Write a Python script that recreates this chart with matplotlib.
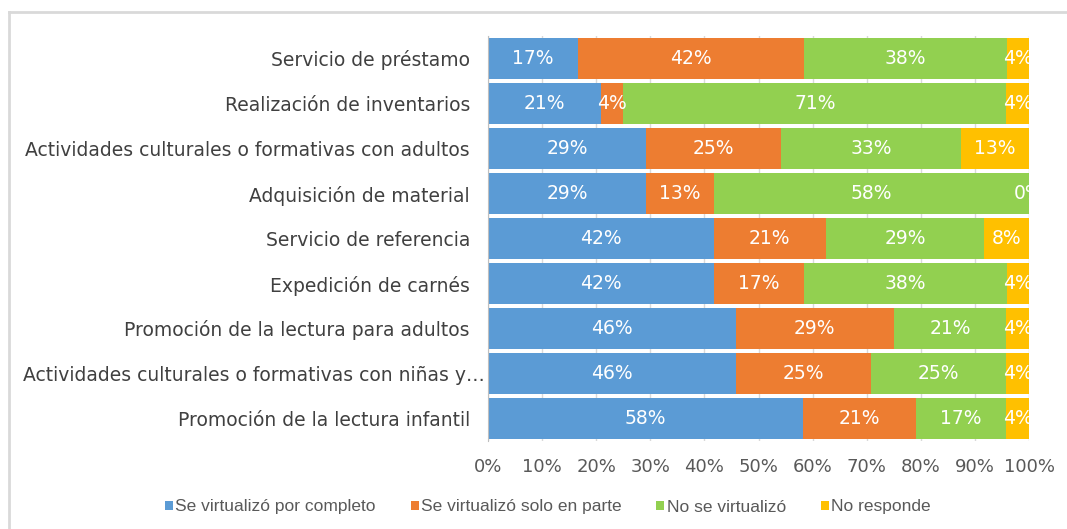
import matplotlib
matplotlib.use("Agg")
import matplotlib.pyplot as plt
from matplotlib.lines import Line2D
from matplotlib.patches import Patch
from matplotlib.transforms import ScaledTranslation

categories = [
    "Servicio de préstamo",
    "Realización de inventarios",
    "Actividades culturales o formativas con adultos",
    "Adquisición de material",
    "Servicio de referencia",
    "Expedición de carnés",
    "Promoción de la lectura para adultos",
    "Actividades culturales o formativas con niñas y…",
    "Promoción de la lectura infantil",
]
series_names = [
    "Se virtualizó por completo",
    "Se virtualizó solo en parte",
    "No se virtualizó",
    "No responde",
]
completo = [16.7, 20.8, 29.2, 29.2, 41.7, 41.7, 45.8, 45.8, 58.3]
en_parte = [41.7, 4.2, 25.0, 12.5, 20.8, 16.7, 29.2, 25.0, 20.8]
no_virtual = [37.5, 70.8, 33.3, 58.3, 29.2, 37.5, 20.8, 25.0, 16.7]
no_responde = [4.2, 4.2, 12.5, 0.0, 8.3, 4.2, 4.2, 4.2, 4.2]
x_ticks = [0, 10, 20, 30, 40, 50, 60, 70, 80, 90, 100]

colors = ["#5B9BD5", "#ED7D31", "#92D050", "#FFC000"]
series = [completo, en_parte, no_virtual, no_responde]

fig = plt.figure(figsize=(10.67, 5.29), dpi=100)
ax = fig.add_axes([488 / 1067, 1 - 441 / 529, (1029 - 488) / 1067, (441 - 36) / 529])

y = list(range(len(categories)))
left = [0.0] * len(categories)
for vals, col, name in zip(series, colors, series_names):
    ax.barh(y, vals, left=left, height=0.93, color=col, label=name, zorder=2)
    for i, v in enumerate(vals):
        cx = left[i] + v / 2
        ax.text(cx, i, f"{int(v + 0.5)}%", ha="center", va="center",
                color="white", fontsize=13.5, clip_on=True, zorder=3)
    left = [a + b for a, b in zip(left, vals)]

ax.set_xlim(0, 100)
ax.set_ylim(len(categories) - 0.5, -0.5)
ax.set_yticks(y)
ax.set_yticklabels(categories, fontsize=13.5, color="#404040")
ax.set_xticks(x_ticks)
ax.set_xticklabels([f"{t}%" for t in x_ticks], fontsize=13, color="#595959")
ax.tick_params(axis="both", length=0)
ax.tick_params(axis="x", pad=12)
ax.tick_params(axis="y", pad=13)
ax.grid(axis="x", color="#d9d9d9", lw=1, zorder=0)
ax.set_axisbelow(True)
for s in ["top", "right", "bottom"]:
    ax.spines[s].set_visible(False)
ax.spines["left"].set_color("#bfbfbf")

# the truncated label sits closer to the axis, as in the original
for lbl in ax.get_yticklabels():
    if lbl.get_text().endswith("…"):
        lbl.set_transform(lbl.get_transform() + ScaledTranslation(0.15, 0, fig.dpi_scale_trans))

handles = [Patch(facecolor=c, edgecolor="none") for c in colors]
fig.legend(handles, series_names, loc="center", bbox_to_anchor=(548 / 1067, 1 - 507 / 529),
           ncol=4, frameon=False, handlelength=0.45, handleheight=0.45, handletextpad=0.15,
           columnspacing=2.0, prop={"family": "Liberation Sans", "size": 12.5},
           labelcolor="#595959")

# outer border
fig.add_artist(Line2D([9 / 1067, 1.0], [1 - 12 / 529, 1 - 12 / 529], color="#d9d9d9", lw=2,
                      transform=fig.transFigure))
fig.add_artist(Line2D([9 / 1067, 9 / 1067], [0, 1 - 12 / 529], color="#d9d9d9", lw=2,
                      transform=fig.transFigure))

fig.savefig("out.png", dpi=100)
